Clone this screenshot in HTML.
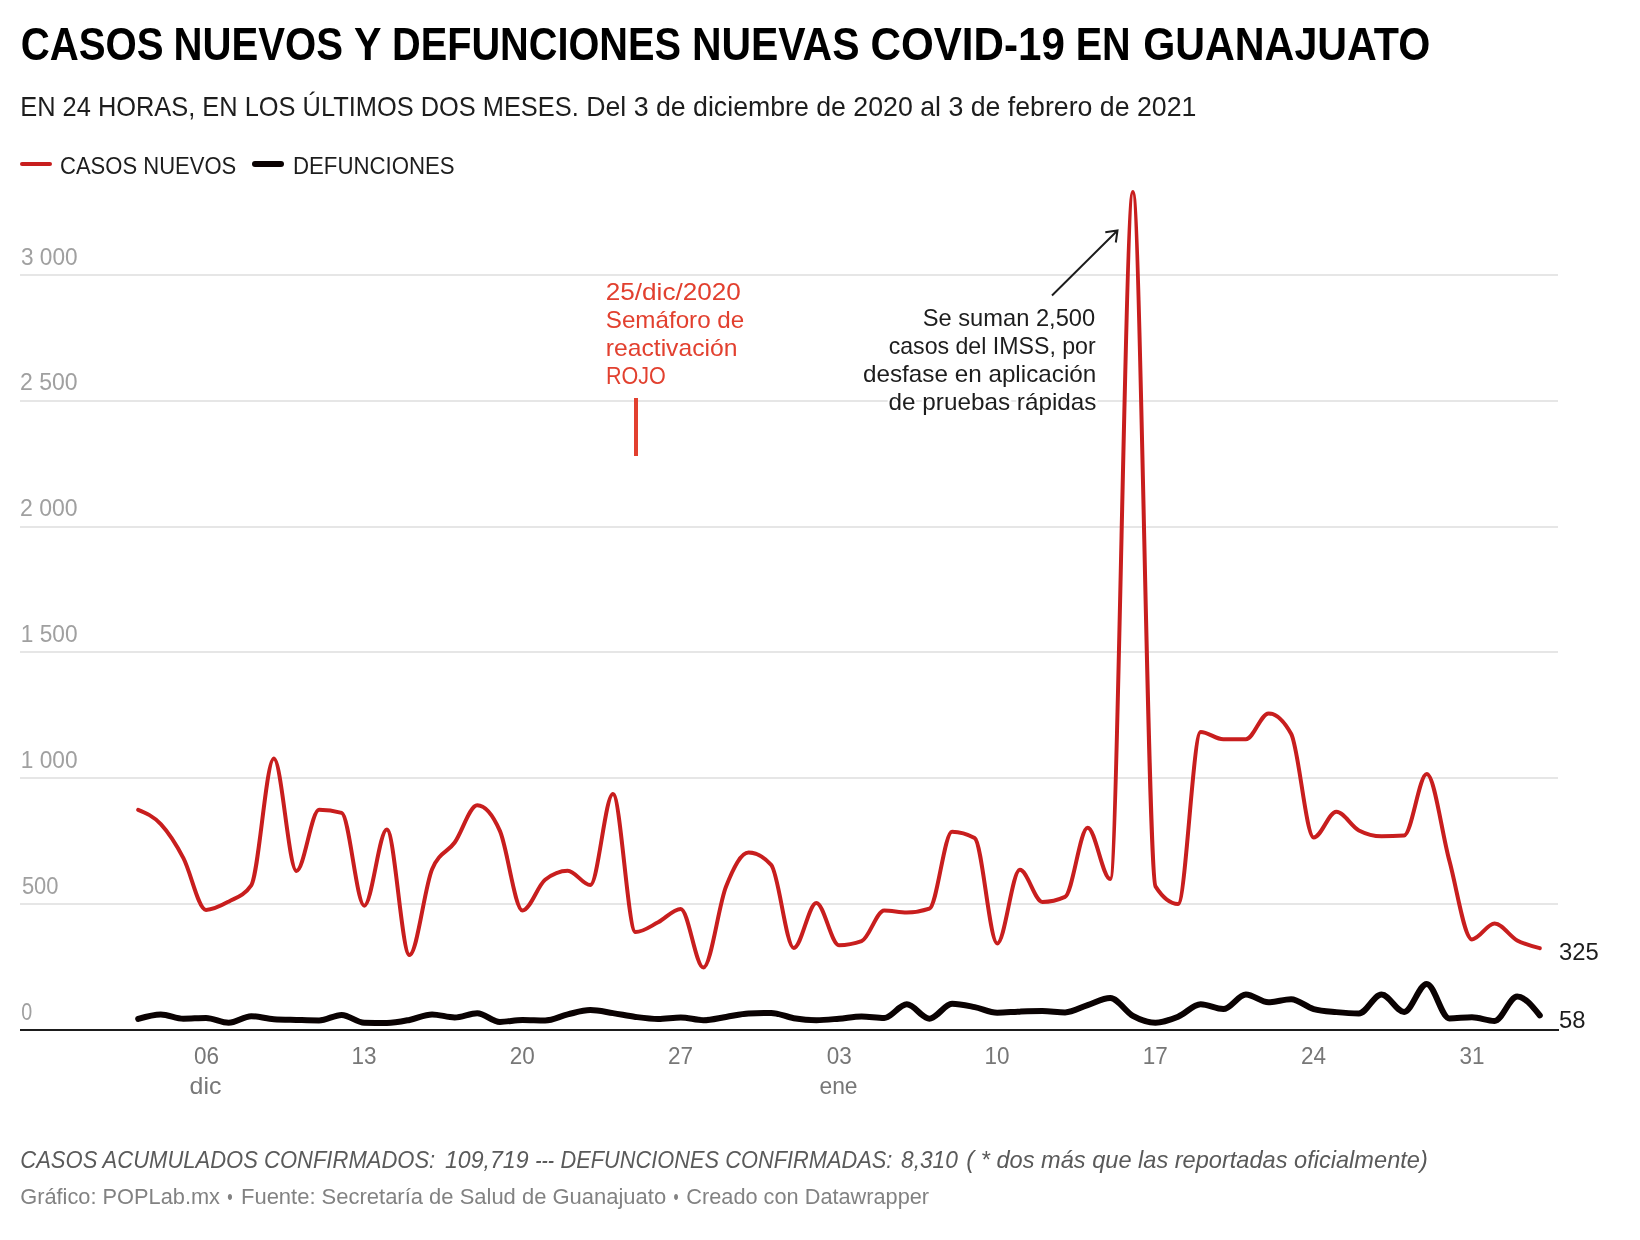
<!DOCTYPE html>
<html><head><meta charset="utf-8"><style>
html,body{margin:0;padding:0;background:#fff;width:1640px;height:1240px;overflow:hidden}
svg{display:block;font-family:"Liberation Sans", sans-serif;will-change:transform}
</style></head><body>
<svg width="1640" height="1240" viewBox="0 0 1640 1240">
<rect width="1640" height="1240" fill="#fff"/>
<rect x="20" y="903" width="1538" height="2" fill="#e6e6e6"/>
<rect x="20" y="777" width="1538" height="2" fill="#e6e6e6"/>
<rect x="20" y="651" width="1538" height="2" fill="#e6e6e6"/>
<rect x="20" y="526" width="1538" height="2" fill="#e6e6e6"/>
<rect x="20" y="400" width="1538" height="2" fill="#e6e6e6"/>
<rect x="20" y="274" width="1538" height="2" fill="#e6e6e6"/>
<text x="21.00" y="264.54" font-size="24" fill="#a0a0a0" textLength="56.63" lengthAdjust="spacingAndGlyphs">3 000</text>
<text x="21.20" y="1019.55" font-size="24" fill="#a0a0a0" textLength="10.99" lengthAdjust="spacingAndGlyphs">0</text>
<text x="21.90" y="893.71" font-size="24" fill="#a0a0a0" textLength="36.62" lengthAdjust="spacingAndGlyphs">500</text>
<text x="20.75" y="767.88" font-size="24" fill="#a0a0a0" textLength="56.77" lengthAdjust="spacingAndGlyphs">1 000</text>
<text x="20.75" y="642.04" font-size="24" fill="#a0a0a0" textLength="56.77" lengthAdjust="spacingAndGlyphs">1 500</text>
<text x="20.04" y="516.21" font-size="24" fill="#a0a0a0" textLength="57.59" lengthAdjust="spacingAndGlyphs">2 000</text>
<text x="20.04" y="390.37" font-size="24" fill="#a0a0a0" textLength="57.59" lengthAdjust="spacingAndGlyphs">2 500</text>
<text x="194.00" y="1063.70" font-size="24" fill="#777777" textLength="25.03" lengthAdjust="spacingAndGlyphs">06</text>
<text x="351.44" y="1063.70" font-size="24" fill="#777777" textLength="25.03" lengthAdjust="spacingAndGlyphs">13</text>
<text x="509.68" y="1063.70" font-size="24" fill="#777777" textLength="25.03" lengthAdjust="spacingAndGlyphs">20</text>
<text x="667.93" y="1063.70" font-size="24" fill="#777777" textLength="25.03" lengthAdjust="spacingAndGlyphs">27</text>
<text x="826.64" y="1063.70" font-size="24" fill="#777777" textLength="25.03" lengthAdjust="spacingAndGlyphs">03</text>
<text x="984.41" y="1063.70" font-size="24" fill="#777777" textLength="25.03" lengthAdjust="spacingAndGlyphs">10</text>
<text x="1142.65" y="1063.70" font-size="24" fill="#777777" textLength="25.03" lengthAdjust="spacingAndGlyphs">17</text>
<text x="1300.89" y="1063.70" font-size="24" fill="#777777" textLength="25.03" lengthAdjust="spacingAndGlyphs">24</text>
<text x="1459.60" y="1063.70" font-size="24" fill="#777777" textLength="25.03" lengthAdjust="spacingAndGlyphs">31</text>
<text x="189.56" y="1093.70" font-size="24" fill="#777777" textLength="31.84" lengthAdjust="spacingAndGlyphs">dic</text>
<text x="819.45" y="1093.70" font-size="24" fill="#777777" textLength="38.08" lengthAdjust="spacingAndGlyphs">ene</text>
<rect x="634" y="398" width="4" height="58" fill="#e2402f"/>
<path d="M138.20,1018.93C145.74,1016.66,153.27,1014.40,160.81,1014.40C168.34,1014.40,175.88,1018.67,183.41,1018.67C190.95,1018.67,198.48,1017.92,206.02,1017.92C213.55,1017.92,221.09,1022.70,228.62,1022.70C236.16,1022.70,243.69,1016.16,251.23,1016.16C258.77,1016.16,266.30,1018.67,273.84,1019.18C281.37,1019.68,288.91,1019.72,296.44,1019.93C303.98,1020.14,311.51,1020.44,319.05,1020.44C326.58,1020.44,334.12,1014.90,341.65,1014.90C349.19,1014.90,356.72,1022.53,364.26,1022.70C371.80,1022.87,379.33,1022.95,386.87,1022.95C394.40,1022.95,401.94,1021.36,409.47,1019.93C417.01,1018.51,424.54,1014.40,432.08,1014.40C439.61,1014.40,447.15,1017.42,454.68,1017.42C462.22,1017.42,469.75,1013.14,477.29,1013.14C484.83,1013.14,492.36,1021.95,499.90,1021.95C507.43,1021.95,514.97,1019.93,522.50,1019.93C530.04,1019.93,537.57,1020.44,545.11,1020.44C552.64,1020.44,560.18,1016.12,567.71,1014.40C575.25,1012.68,582.78,1010.12,590.32,1010.12C597.86,1010.12,605.39,1012.01,612.93,1013.14C620.46,1014.27,628.00,1015.95,635.53,1016.91C643.07,1017.88,650.60,1018.93,658.14,1018.93C665.67,1018.93,673.21,1017.42,680.74,1017.42C688.28,1017.42,695.81,1020.18,703.35,1020.18C710.89,1020.18,718.42,1018.05,725.96,1016.91C733.49,1015.78,741.03,1013.73,748.56,1013.39C756.10,1013.05,763.63,1012.89,771.17,1012.89C778.70,1012.89,786.24,1016.96,793.77,1018.17C801.31,1019.39,808.84,1020.18,816.38,1020.18C823.92,1020.18,831.45,1019.30,838.99,1018.67C846.52,1018.05,854.06,1016.41,861.59,1016.41C869.13,1016.41,876.66,1017.92,884.20,1017.92C891.73,1017.92,899.27,1004.33,906.80,1004.33C914.34,1004.33,921.87,1018.67,929.41,1018.67C936.95,1018.67,944.48,1003.83,952.02,1003.83C959.55,1003.83,967.09,1005.63,974.62,1007.10C982.16,1008.57,989.69,1012.63,997.23,1012.63C1004.76,1012.63,1012.30,1011.88,1019.83,1011.63C1027.37,1011.38,1034.90,1011.12,1042.44,1011.12C1049.98,1011.12,1057.51,1012.38,1065.05,1012.38C1072.58,1012.38,1080.12,1007.48,1087.65,1005.08C1095.19,1002.69,1102.72,998.04,1110.26,998.04C1117.79,998.04,1125.33,1011.80,1132.86,1015.91C1140.40,1020.02,1147.93,1022.70,1155.47,1022.70C1163.01,1022.70,1170.54,1019.72,1178.08,1016.66C1185.61,1013.60,1193.15,1004.33,1200.68,1004.33C1208.22,1004.33,1215.75,1009.11,1223.29,1009.11C1230.82,1009.11,1238.36,994.51,1245.89,994.51C1253.43,994.51,1260.96,1002.32,1268.50,1002.32C1276.04,1002.32,1283.57,999.30,1291.11,999.30C1298.64,999.30,1306.18,1007.10,1313.71,1009.11C1321.25,1011.12,1328.78,1011.42,1336.32,1012.13C1343.85,1012.84,1351.39,1013.39,1358.92,1013.39C1366.46,1013.39,1373.99,994.51,1381.53,994.51C1389.07,994.51,1396.60,1011.88,1404.14,1011.88C1411.67,1011.88,1419.21,983.94,1426.74,983.94C1434.28,983.94,1441.81,1018.42,1449.35,1018.42C1456.88,1018.42,1464.42,1017.16,1471.95,1017.16C1479.49,1017.16,1487.02,1020.94,1494.56,1020.94C1502.10,1020.94,1509.63,996.53,1517.17,996.53C1524.70,996.53,1532.24,1005.97,1539.77,1015.40" fill="none" stroke="#0a0202" stroke-width="6" stroke-linejoin="round" stroke-linecap="round"/>
<path d="M138.20,809.79C145.74,812.93,153.27,816.08,160.81,824.13C168.34,832.19,175.88,843.81,183.41,858.11C190.95,872.41,198.48,909.95,206.02,909.95C213.55,909.95,221.09,905.76,228.62,901.65C236.16,897.54,243.69,896.20,251.23,885.29C258.77,874.38,266.30,758.45,273.84,758.45C281.37,758.45,288.91,870.94,296.44,870.94C303.98,870.94,311.51,809.79,319.05,809.79C326.58,809.79,334.12,810.80,341.65,812.81C349.19,814.82,356.72,905.68,364.26,905.68C371.80,905.68,379.33,829.42,386.87,829.42C394.40,829.42,401.94,955.00,409.47,955.00C417.01,955.00,424.54,886.97,432.08,869.18C439.61,851.40,447.15,853.16,454.68,842.51C462.22,831.85,469.75,805.26,477.29,805.26C484.83,805.26,492.36,813.82,499.90,830.93C507.43,848.04,514.97,910.46,522.50,910.46C530.04,910.46,537.57,885.79,545.11,879.75C552.64,873.71,560.18,870.69,567.71,870.69C575.25,870.69,582.78,885.04,590.32,885.04C597.86,885.04,605.39,793.93,612.93,793.93C620.46,793.93,628.00,932.10,635.53,932.10C643.07,932.10,650.60,926.14,658.14,922.29C665.67,918.43,673.21,908.95,680.74,908.95C688.28,908.95,695.81,967.59,703.35,967.59C710.89,967.59,718.42,905.97,725.96,886.80C733.49,867.63,741.03,852.57,748.56,852.57C756.10,852.57,763.63,856.68,771.17,864.90C778.70,873.13,786.24,947.96,793.77,947.96C801.31,947.96,808.84,902.91,816.38,902.91C823.92,902.91,831.45,945.19,838.99,945.19C846.52,945.19,854.06,943.84,861.59,941.16C869.13,938.48,876.66,910.46,884.20,910.46C891.73,910.46,899.27,912.47,906.80,912.47C914.34,912.47,921.87,911.21,929.41,908.70C936.95,906.18,944.48,831.68,952.02,831.68C959.55,831.68,967.09,833.78,974.62,837.98C982.16,842.17,989.69,943.43,997.23,943.43C1004.76,943.43,1012.30,869.69,1019.83,869.69C1027.37,869.69,1034.90,901.90,1042.44,901.90C1049.98,901.90,1057.51,900.22,1065.05,896.87C1072.58,893.51,1080.12,827.66,1087.65,827.66C1095.19,827.66,1102.72,879.00,1110.26,879.00C1117.79,879.00,1125.33,191.94,1132.86,191.94C1140.40,191.94,1147.93,874.55,1155.47,886.30C1163.01,898.04,1170.54,903.91,1178.08,903.91C1185.61,903.91,1193.15,732.02,1200.68,732.02C1208.22,732.02,1215.75,739.32,1223.29,739.32C1230.82,739.32,1238.36,739.32,1245.89,739.32C1253.43,739.32,1260.96,713.40,1268.50,713.40C1276.04,713.40,1283.57,720.19,1291.11,733.78C1298.64,747.37,1306.18,837.47,1313.71,837.47C1321.25,837.47,1328.78,811.80,1336.32,811.80C1343.85,811.80,1351.39,826.57,1358.92,830.43C1366.46,834.28,1373.99,836.21,1381.53,836.21C1389.07,836.21,1396.60,835.96,1404.14,835.46C1411.67,834.96,1419.21,774.05,1426.74,774.05C1434.28,774.05,1441.81,833.07,1449.35,860.63C1456.88,888.18,1464.42,939.40,1471.95,939.40C1479.49,939.40,1487.02,923.54,1494.56,923.54C1502.10,923.54,1509.63,936.29,1517.17,940.41C1524.70,944.52,1532.24,946.36,1539.77,948.21" fill="none" stroke="#c81e1e" stroke-width="4" stroke-linejoin="round" stroke-linecap="round"/>
<rect x="20" y="1029" width="1539" height="2" fill="#1d1d1d"/>
<text x="1559.10" y="959.70" font-size="24" fill="#1d1d1d" textLength="39.75" lengthAdjust="spacingAndGlyphs">325</text>
<text x="1559.10" y="1027.70" font-size="24" fill="#1d1d1d" textLength="26.50" lengthAdjust="spacingAndGlyphs">58</text>
<text x="605.71" y="299.90" font-size="24" fill="#e2402f" textLength="135.17" lengthAdjust="spacingAndGlyphs">25/dic/2020</text>
<text x="605.79" y="327.70" font-size="24" fill="#e2402f" textLength="138.46" lengthAdjust="spacingAndGlyphs">Semáforo de</text>
<text x="605.77" y="355.80" font-size="24" fill="#e2402f" textLength="131.71" lengthAdjust="spacingAndGlyphs">reactivación</text>
<text x="605.90" y="383.80" font-size="24" fill="#e2402f" textLength="59.90" lengthAdjust="spacingAndGlyphs">ROJO</text>
<text x="922.71" y="325.90" font-size="24" fill="#1d1d1d" textLength="172.53" lengthAdjust="spacingAndGlyphs" stroke="#fff" stroke-width="4" paint-order="stroke">Se suman 2,500</text>
<text x="888.64" y="353.90" font-size="24" fill="#1d1d1d" textLength="207.06" lengthAdjust="spacingAndGlyphs" stroke="#fff" stroke-width="4" paint-order="stroke">casos del IMSS, por</text>
<text x="862.99" y="381.90" font-size="24" fill="#1d1d1d" textLength="233.27" lengthAdjust="spacingAndGlyphs" stroke="#fff" stroke-width="4" paint-order="stroke">desfase en aplicación</text>
<text x="888.59" y="409.90" font-size="24" fill="#1d1d1d" textLength="207.91" lengthAdjust="spacingAndGlyphs" stroke="#fff" stroke-width="4" paint-order="stroke">de pruebas rápidas</text>
<path d="M1052,295.5 L1117.5,230.5 M1105.3,232.3 L1117.5,230.5 L1115.8,242.5" fill="none" stroke="#1d1d1d" stroke-width="2" stroke-linecap="butt" stroke-linejoin="miter"/>
<text x="20.63" y="59.80" font-size="46" fill="#000" textLength="143.04" lengthAdjust="spacingAndGlyphs" font-weight="bold">CASOS</text>
<text x="173.48" y="59.80" font-size="46" fill="#000" textLength="169.48" lengthAdjust="spacingAndGlyphs" font-weight="bold">NUEVOS</text>
<text x="354.10" y="59.80" font-size="46" fill="#000" textLength="27.51" lengthAdjust="spacingAndGlyphs" font-weight="bold">Y</text>
<text x="392.01" y="59.80" font-size="46" fill="#000" textLength="288.94" lengthAdjust="spacingAndGlyphs" font-weight="bold">DEFUNCIONES</text>
<text x="691.93" y="59.80" font-size="46" fill="#000" textLength="167.57" lengthAdjust="spacingAndGlyphs" font-weight="bold">NUEVAS</text>
<text x="870.58" y="59.80" font-size="46" fill="#000" textLength="194.27" lengthAdjust="spacingAndGlyphs" font-weight="bold">COVID-19</text>
<text x="1075.72" y="59.80" font-size="46" fill="#000" textLength="54.99" lengthAdjust="spacingAndGlyphs" font-weight="bold">EN</text>
<text x="1143.20" y="59.80" font-size="46" fill="#000" textLength="287.19" lengthAdjust="spacingAndGlyphs" font-weight="bold">GUANAJUATO</text>
<text x="20.29" y="115.90" font-size="28" fill="#1d1d1d" textLength="558.43" lengthAdjust="spacingAndGlyphs">EN 24 HORAS, EN LOS ÚLTIMOS DOS MESES.</text>
<text x="586.19" y="115.90" font-size="28" fill="#1d1d1d" textLength="610.15" lengthAdjust="spacingAndGlyphs">Del 3 de diciembre de 2020 al 3 de febrero de 2021</text>
<text x="59.98" y="173.50" font-size="24" fill="#1d1d1d" textLength="176.34" lengthAdjust="spacingAndGlyphs">CASOS NUEVOS</text>
<text x="292.97" y="173.50" font-size="24" fill="#1d1d1d" textLength="161.66" lengthAdjust="spacingAndGlyphs">DEFUNCIONES</text>
<text x="20.28" y="1167.80" font-size="24" fill="#5a5a5a" textLength="414.93" lengthAdjust="spacingAndGlyphs" font-style="italic">CASOS ACUMULADOS CONFIRMADOS:</text>
<text x="444.90" y="1167.80" font-size="24" fill="#5a5a5a" textLength="83.74" lengthAdjust="spacingAndGlyphs" font-style="italic">109,719</text>
<text x="535.32" y="1167.80" font-size="24" fill="#5a5a5a" textLength="18.78" lengthAdjust="spacingAndGlyphs" font-style="italic">---</text>
<text x="560.50" y="1167.80" font-size="24" fill="#5a5a5a" textLength="331.81" lengthAdjust="spacingAndGlyphs" font-style="italic">DEFUNCIONES CONFIRMADAS:</text>
<text x="901.00" y="1167.80" font-size="24" fill="#5a5a5a" textLength="56.88" lengthAdjust="spacingAndGlyphs" font-style="italic">8,310</text>
<text x="966.32" y="1167.80" font-size="24" fill="#5a5a5a" textLength="461.46" lengthAdjust="spacingAndGlyphs" font-style="italic">( * dos más que las reportadas oficialmente)</text>
<text x="20.21" y="1203.90" font-size="22" fill="#828282" textLength="199.79" lengthAdjust="spacingAndGlyphs">Gráfico: POPLab.mx</text>
<text x="227.30" y="1203.90" font-size="22" fill="#828282" textLength="5.39" lengthAdjust="spacingAndGlyphs">•</text>
<text x="241.00" y="1203.90" font-size="22" fill="#828282" textLength="425.13" lengthAdjust="spacingAndGlyphs">Fuente: Secretaría de Salud de Guanajuato</text>
<text x="673.40" y="1203.90" font-size="22" fill="#828282" textLength="5.06" lengthAdjust="spacingAndGlyphs">•</text>
<text x="686.31" y="1203.90" font-size="22" fill="#828282" textLength="242.81" lengthAdjust="spacingAndGlyphs">Creado con Datawrapper</text>
<line x1="22" y1="164" x2="50" y2="164" stroke="#c81e1e" stroke-width="4" stroke-linecap="round"/>
<line x1="255" y1="164" x2="281" y2="164" stroke="#0a0202" stroke-width="6" stroke-linecap="round"/>
</svg>
</body></html>
